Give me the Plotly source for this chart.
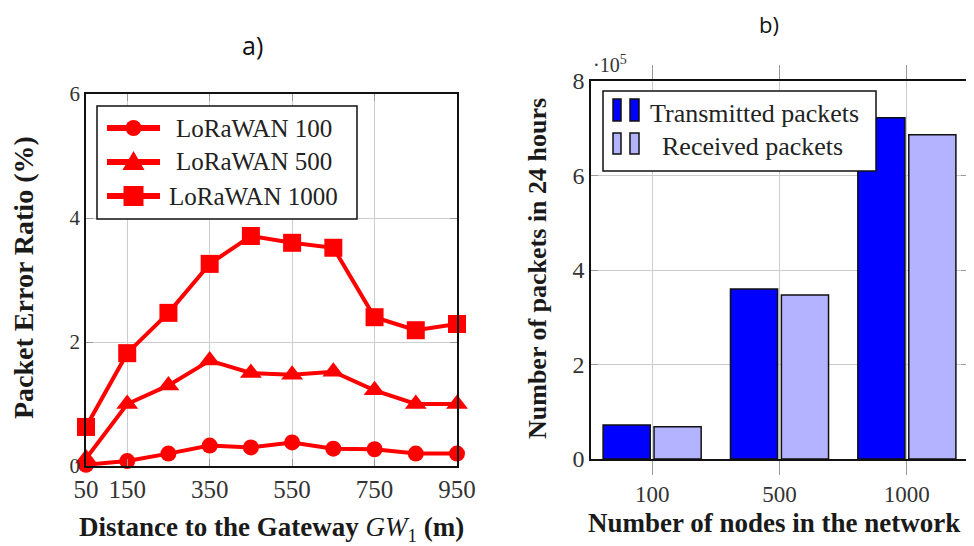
import plotly.graph_objects as go

# ---- data: panel a) ----
distance = [50, 150, 250, 350, 450, 550, 650, 750, 850, 950]
per_100 = [0.02, 0.08, 0.20, 0.33, 0.30, 0.38, 0.28, 0.27, 0.20, 0.20]
per_500 = [0.12, 1.00, 1.30, 1.70, 1.50, 1.47, 1.52, 1.22, 1.00, 1.00]
per_1000 = [0.63, 1.82, 2.47, 3.26, 3.71, 3.60, 3.52, 2.40, 2.19, 2.29]
a_xticks = [50, 150, 350, 550, 750, 950]
a_yticks = [0, 2, 4, 6]

# ---- data: panel b) ----
nodes = ["100", "500", "1000"]
transmitted = [72000, 360000, 722000]
received = [68000, 347000, 686000]
b_yticks = [0, 200000, 400000, 600000, 800000]
b_yticklabels = ["0", "2", "4", "6", "8"]

# page has an 8px body margin: figure is drawn from (8, 8)
OFF = 8
W, H = 974 - OFF, 546 - OFF
def px(x):
    return (x - OFF) / W
def py(y):
    return 1 - (y - OFF) / H

SERIF = "Liberation Serif"
TICKC = "#333333"
TEXTC = "#1a1a1a"
GRID = "#cccccc"
RED = "#ff0000"
BLUE = "#0000ff"
LBLUE = "#b3b3ff"

fig = go.Figure()

series = [("LoRaWAN 100", per_100, "circle", 16),
          ("LoRaWAN 500", per_500, "triangle-up", 19),
          ("LoRaWAN 1000", per_1000, "square", 18)]
for name, vals, sym, sz in series:
    fig.add_trace(go.Scatter(
        x=distance, y=vals, name=name, mode="lines+markers",
        line=dict(color=RED, width=4),
        marker=dict(symbol=sym, size=sz, color=RED),
        cliponaxis=False, xaxis="x", yaxis="y", showlegend=False))

fig.add_trace(go.Bar(x=nodes, y=transmitted, name="Transmitted packets",
                     marker=dict(color=BLUE, line=dict(color="#111111", width=1.5)),
                     xaxis="x2", yaxis="y2", showlegend=False))
fig.add_trace(go.Bar(x=nodes, y=received, name="Received packets",
                     marker=dict(color=LBLUE, line=dict(color="#111111", width=1.5)),
                     xaxis="x2", yaxis="y2", showlegend=False))

def ax(size, **kw):
    d = dict(showline=True, linecolor="#111111", linewidth=1.5, mirror="ticks",
             gridcolor=GRID, gridwidth=1, zeroline=False, automargin=False,
             tickfont=dict(family=SERIF, size=size, color=TICKC),
             tickcolor="#999999", ticklen=7, tickwidth=1)
    d.update(kw)
    return d

fig.update_layout(
    width=W, height=H,
    margin=dict(l=0, r=0, t=0, b=0, autoexpand=False),
    paper_bgcolor="white", plot_bgcolor="white",
    barmode="group", bargap=0.2, bargroupgap=0.075,
    showlegend=False,
    xaxis=ax(25, domain=[px(86), px(457)], range=[50, 950], tickmode="array",
             tickvals=a_xticks, ticks="inside", anchor="y"),
    yaxis=ax(21, domain=[py(466), py(94)], range=[0, 6], tickmode="array",
             tickvals=a_yticks, ticks="inside", anchor="x"),
    xaxis2=ax(23, domain=[px(591), px(968)], range=[-0.48, 2.48], type="category",
              ticks="outside", ticklen=14, anchor="y2", showgrid=True),
    yaxis2=ax(24, domain=[py(459), py(81)], range=[0, 800000], tickmode="array",
              tickvals=b_yticks, ticktext=b_yticklabels, ticks="inside", anchor="x2"),
)

def note(x, y, text, size, family=SERIF, color=TEXTC, angle=0, xanchor="center"):
    fig.add_annotation(x=px(x), y=py(y), xref="paper", yref="paper", text=text,
                       showarrow=False, xanchor=xanchor, yanchor="middle",
                       textangle=angle, font=dict(family=family, size=size, color=color))

# axis titles
note(271, 529, "<b>Distance to the Gateway</b> <i>GW</i><sub>1</sub> <b>(m)</b>", 27)
note(23, 278, "<b>Packet Error Ratio (%)</b>", 28, angle=-90)
note(774, 523, "<b>Number of nodes in the network</b>", 27)
note(537, 269, "<b>Number of packets in 24 hours</b>", 26, angle=-90)

# panel titles
note(252, 45, "a)", 25, family="Open Sans", color="#111111")
note(769, 24, "b)", 22, family="Open Sans", color="#111111")
# exponent label
note(591, 64, "·10<sup>5</sup>", 20, color=TICKC, xanchor="left")

shapes = []
def rect(x0, y0, x1, y1, fill, lw=1.5, lc="#111111"):
    shapes.append(dict(type="rect", xref="paper", yref="paper", x0=px(x0), x1=px(x1),
                       y0=py(y1), y1=py(y0), line=dict(color=lc, width=lw),
                       fillcolor=fill, layer="above"))

# legend for panel a)
rect(97, 106, 357, 219, "white")
legend_rows = [(128, "circle", "LoRaWAN 100"),
               (162, "triangle", "LoRaWAN 500"),
               (196, "square", "LoRaWAN 1000")]
for (yy, sym, label) in legend_rows:
    shapes.append(dict(type="line", xref="paper", yref="paper", x0=px(107), x1=px(160),
                       y0=py(yy), y1=py(yy), line=dict(color=RED, width=6), layer="above"))
    cx = 133.5
    if sym == "circle":
        shapes.append(dict(type="circle", xref="paper", yref="paper",
                           x0=px(cx - 8), x1=px(cx + 8), y0=py(yy + 8), y1=py(yy - 8),
                           fillcolor=RED, line=dict(width=0), layer="above"))
    elif sym == "square":
        rect(cx - 10, yy - 10, cx + 10, yy + 10, RED, lw=0, lc=RED)
    else:
        path = "M {:.5f},{:.5f} L {:.5f},{:.5f} L {:.5f},{:.5f} Z".format(
            px(cx - 11), py(yy + 8), px(cx + 11), py(yy + 8), px(cx), py(yy - 11))
        shapes.append(dict(type="path", xref="paper", yref="paper", path=path,
                           fillcolor=RED, line=dict(width=0), layer="above"))
    note(254, yy, label, 25, color="#222222")

# legend for panel b)
rect(603, 91, 876, 171, "white")
for (y0, y1, col) in [(99, 121, BLUE), (133, 154, LBLUE)]:
    for (x0, x1) in [(613, 621), (630, 639)]:
        rect(x0, y0, x1, y1, col)
fig.update_layout(shapes=shapes)
note(754, 114, "Transmitted packets", 26, color="#222222")
note(752, 146, "Received packets", 26, color="#222222")

fig.write_html("out.html")
